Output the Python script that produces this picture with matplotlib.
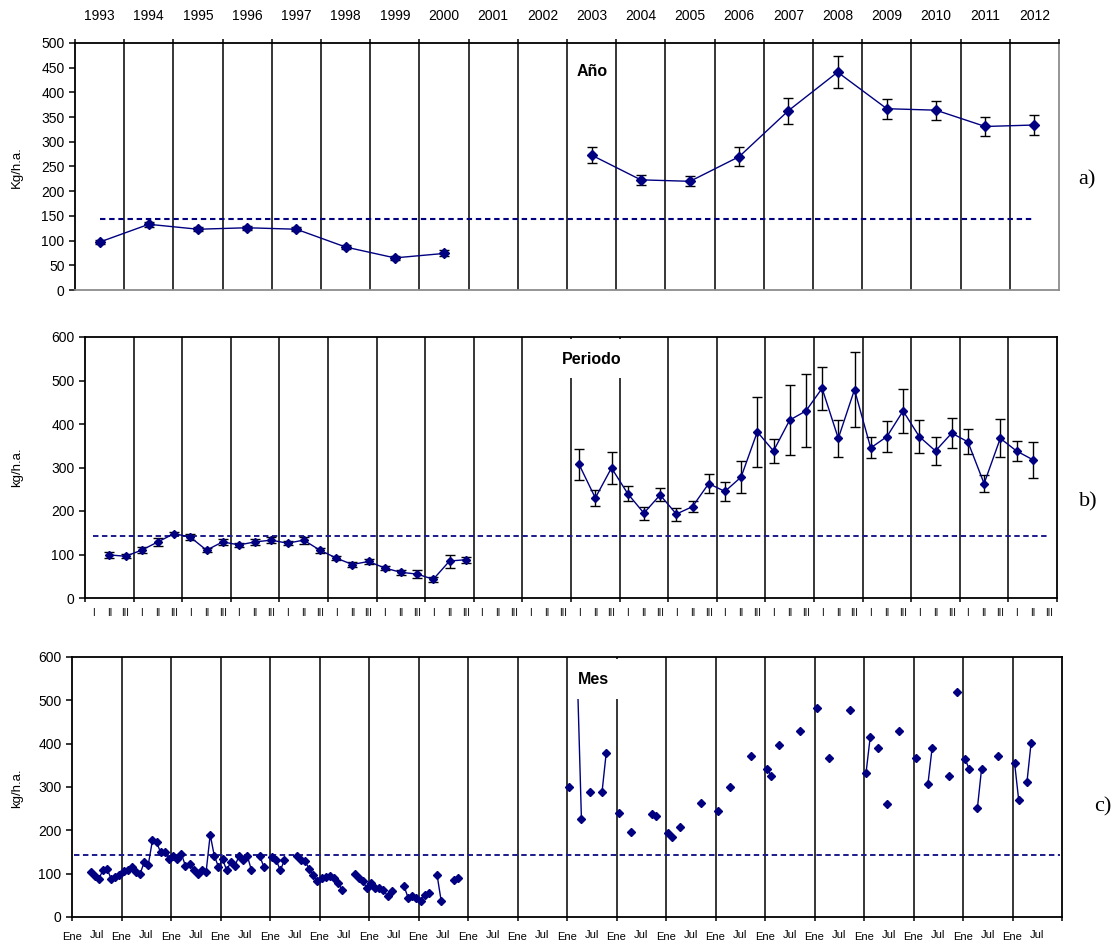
import matplotlib
matplotlib.use('Agg')
import matplotlib.pyplot as plt
from matplotlib.patches import Rectangle
import numpy as np

plt.rcParams['font.family'] = ['Liberation Sans', 'DejaVu Sans']

# a) yearly means with error
anios = [str(y) for y in range(1993, 2013)]
anio_kg = [97, 133, 123, 126, 123, 87, 65, 74, None, None,
           273, 223, 220, 270, 363, 441, 367, 364, 331, 334]
anio_err = [4, 5, 4, 4, 4, 4, 4, 6, None, None,
            16, 10, 10, 19, 26, 32, 20, 19, 20, 21]

# b) four-month periods (I, II, III per year)
periodos = ['I', 'II', 'III']
periodo_kg = [None, 99, 96,      # 1993
              110, 129, 148,     # 1994
              140, 110, 129,     # 1995
              122, 129, 133,     # 1996
              126, 133, 110,     # 1997
              92, 77, 84,        # 1998
              69, 59, 55,        # 1999
              43, 85, 88,        # 2000
              None, None, None,  # 2001
              None, None, None,  # 2002
              307, 230, 299,     # 2003
              240, 195, 237,     # 2004
              193, 210, 263,     # 2005
              245, 278, 382,     # 2006
              338, 409, 430,     # 2007
              482, 367, 479,     # 2008
              345, 371, 430,     # 2009
              371, 338, 379,     # 2010
              359, 263, 367,     # 2011
              338, 318, None]    # 2012
periodo_err = [None, 6, 5,
               7, 9, 4,
               6, 5, 7,
               5, 7, 7,
               5, 8, 6,
               5, 5, 5,
               5, 6, 9,
               6, 15, 7,
               None, None, None,
               None, None, None,
               35, 18, 37,
               17, 15, 15,
               15, 12, 22,
               22, 37, 80,
               28, 80, 84,
               50, 43, 87,
               24, 36, 50,
               38, 33, 35,
               29, 19, 44,
               24, 41, None]

# c) monthly values, month index counted from Jan 1993
mes_idx = [4, 5, 6, 7, 8, 9, 10, 11, 12, 13, 14, 15, 16, 17, 18, 19, 20, 21,
           22, 23, 24, 25, 26, 27, 28, 29, 30, 31, 32, 33, 34, 35, 36, 37, 38,
           39, 40, 41, 42, 43, 45, 46, 48, 49, 50, 51, 54, 55, 56, 57, 58, 59,
           60, 61, 62, 63, 64, 65, 68, 69, 70, 71, 72, 73, 74, 75, 76, 77, 80,
           81, 82, 83, 84, 85, 86, 88, 89, 92, 93,
           120, 122, 123, 125, 128, 129, 132, 135, 140, 141, 144, 145, 147,
           152, 156, 159, 164, 168, 169, 171, 176, 180, 183, 188, 192, 193,
           195, 197, 200, 204, 207, 208, 212, 214, 216, 217, 219, 220, 224,
           228, 229, 231, 232]
mes_kg = [105, 94, 88, 108, 111, 88, 92, 96, 106, 108, 115, 105, 100, 126, 121,
          177, 172, 149, 149, 133, 141, 133, 146, 118, 123, 108, 100, 108, 103,
          190, 141, 116, 133, 108, 127, 118, 141, 131, 141, 108, 141, 116, 138,
          131, 108, 131, 141, 131, 129, 111, 96, 82, 89, 93, 94, 89, 78, 63,
          100, 89, 83, 66, 79, 67, 67, 63, 48, 60, 71, 44, 49, 44, 37, 51, 56,
          97, 37, 85, 89,
          301, 560, 226, 289, 289, 378, 241, 197, 238, 234, 193, 185, 208,
          263, 245, 301, 371, 342, 326, 396, 430, 482, 367, 478, 333, 415,
          389, 260, 430, 367, 307, 389, 326, 519, 364, 342, 252, 342, 371,
          356, 270, 311, 401]
mes_labels = ['Ene', 'Jul']

referencia = 143

W, H = 1120, 944
NAVY = '#000080'
DASH = '#1c1c8c'

fig = plt.figure(figsize=(W / 100, H / 100), dpi=100)


def axes_px(left, top, right, bottom):
    return fig.add_axes([left / W, 1 - bottom / H, (right - left) / W, (bottom - top) / H])


def white_box(x0, y0, x1, y1):
    fig.add_artist(Rectangle((x0 / W, 1 - y1 / H), (x1 - x0) / W, (y1 - y0) / H,
                             transform=fig.transFigure, facecolor='white',
                             edgecolor='none', zorder=5))


def to_arr(vals):
    return np.array([np.nan if v is None else v for v in vals], dtype=float)


# ---------- a) Año ----------
ax1 = axes_px(75, 43, 1059, 290)
n = len(anios)
xa = np.arange(n) + 0.5
ya = to_arr(anio_kg)
ea = to_arr(anio_err)
for k in range(1, n):
    ax1.axvline(k, color='black', lw=1.1, zorder=1)
ax1.plot([xa[0], xa[-1]], [referencia, referencia], color=NAVY, lw=1.5,
         dashes=(2.6, 1.8), zorder=2)
ax1.errorbar(xa, ya, yerr=ea, fmt='none', ecolor='black', elinewidth=1,
             capsize=3.5, capthick=1, zorder=3)
ax1.plot(xa, ya, color=NAVY, lw=1, marker='D', ms=5.5, zorder=4)
ax1.set_xlim(0, n)
ax1.set_ylim(0, 500)
ax1.set_yticks(range(0, 501, 50))
ax1.xaxis.tick_top()
ax1.set_xticks(range(0, n + 1))
ax1.set_xticklabels([])
ax1.set_xticks(xa, minor=True)
ax1.set_xticklabels(anios, minor=True)
ax1.tick_params(axis='x', which='major', length=3, width=1.1, direction='out')
ax1.tick_params(axis='x', which='minor', length=0, pad=14.5, labelsize=10)
ax1.tick_params(axis='y', length=4.5, width=1.1, labelsize=10, pad=3)
for s in ['top', 'left']:
    ax1.spines[s].set_linewidth(1.3)
for s in ['bottom', 'right']:
    ax1.spines[s].set_color('#8c8c8c')
    ax1.spines[s].set_linewidth(1.3)
fig.text(577 / W, 1 - 72 / H, 'Año', fontsize=11.5, fontweight='bold',
         ha='left', va='center', zorder=6)
fig.text(17 / W, 1 - 167 / H, 'Kg/h.a.', rotation=90, fontsize=9.5,
         ha='center', va='center')

# ---------- b) Periodo ----------
ax2 = axes_px(85, 337, 1057, 598)
m = len(periodo_kg)
xp = np.arange(m) + 0.5
yp = to_arr(periodo_kg)
ep = to_arr(periodo_err)
for k in range(3, m, 3):
    ax2.axvline(k, color='black', lw=1.1, zorder=1)
ax2.plot([xp[0], xp[-1]], [referencia, referencia], color=DASH, lw=1.4,
         dashes=(2.8, 1.8), zorder=2)
ax2.errorbar(xp, yp, yerr=ep, fmt='none', ecolor='black', elinewidth=1,
             capsize=3.5, capthick=1, zorder=3)
ax2.plot(xp, yp, color=NAVY, lw=1, marker='D', ms=3.6, zorder=4)
ax2.set_xlim(0, m)
ax2.set_ylim(0, 600)
ax2.set_yticks(range(0, 601, 100))
ax2.set_xticks(range(0, m + 1, 3))
ax2.set_xticklabels([])
ax2.set_xticks(xp, minor=True)
ax2.set_xticklabels(periodos * (m // 3), minor=True)
ax2.tick_params(axis='x', which='major', length=3, width=1.1, direction='out')
ax2.tick_params(axis='x', which='minor', length=0, pad=7, labelsize=7)
ax2.tick_params(axis='y', length=4.5, width=1.1, labelsize=10, pad=3)
for s in ax2.spines.values():
    s.set_linewidth(1.3)
white_box(553, 339, 640, 378)
fig.text(562 / W, 1 - 359 / H, 'Periodo', fontsize=11.5, fontweight='bold',
         ha='left', va='center', zorder=6)
fig.text(17 / W, 1 - 467 / H, 'kg/h.a.', rotation=90, fontsize=9.5,
         ha='center', va='center')

# ---------- c) Mes ----------
ax3 = axes_px(72, 657, 1062, 917)
nm = 12 * n
ym = np.full(nm, np.nan)
ym[mes_idx] = mes_kg
xm = np.arange(nm) + 0.5
for k in range(12, nm, 12):
    ax3.axvline(k, color='black', lw=1.1, zorder=1)
ax3.plot([xm[0], xm[-1]], [referencia, referencia], color=DASH, lw=1.4,
         dashes=(2.8, 1.8), zorder=2)
ax3.plot(xm, ym, color=NAVY, lw=1, marker='D', ms=4, zorder=4)
ax3.set_xlim(0, nm)
ax3.set_ylim(0, 600)
ax3.set_yticks(range(0, 601, 100))
ax3.set_xticks(range(0, nm + 1, 12))
ax3.set_xticklabels([mes_labels[0]] * n + [''])
ax3.set_xticks(range(6, nm, 12), minor=True)
ax3.set_xticklabels([mes_labels[1]] * n, minor=True)
ax3.tick_params(axis='x', which='major', length=3, width=1.1, direction='out',
                pad=7.5, labelsize=8)
ax3.tick_params(axis='x', which='minor', length=0, pad=9.7, labelsize=8)
ax3.tick_params(axis='y', length=4.5, width=1.1, labelsize=10, pad=3)
for s in ax3.spines.values():
    s.set_linewidth(1.3)
white_box(572, 659, 622, 699)
fig.text(578 / W, 1 - 679 / H, 'Mes', fontsize=11.5, fontweight='bold',
         ha='left', va='center', zorder=6)
fig.text(17 / W, 1 - 788 / H, 'kg/h.a.', rotation=90, fontsize=9.5,
         ha='center', va='center')

# panel letters
for lbl, px, py in [('a)', 1087, 180), ('b)', 1088, 502), ('c)', 1103, 807)]:
    fig.text(px / W, 1 - py / H, lbl, fontsize=16, family='Liberation Serif',
             ha='center', va='center')

fig.savefig('out.png', dpi=100)
